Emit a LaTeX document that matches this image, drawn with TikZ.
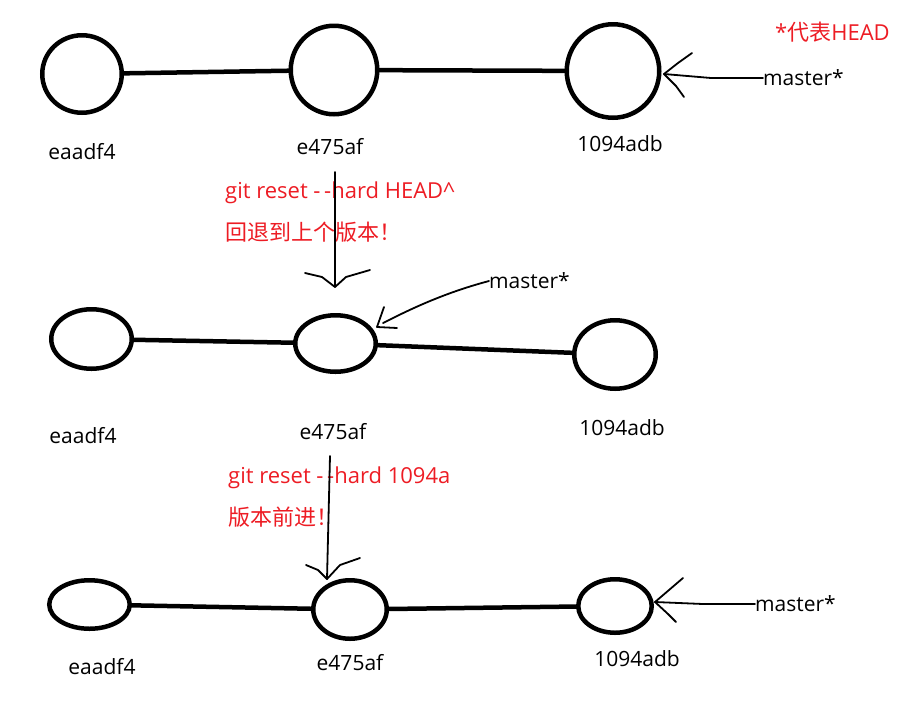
\documentclass[tikz,border=0pt]{standalone}
\usepackage{fontspec}
\setmainfont{Open Sans}
\newfontfamily\cjk{Noto Sans CJK SC}
\usetikzlibrary{shapes.geometric}
\definecolor{paint_red}{RGB}{237,28,36}
\tikzset{commit_node/.style={ellipse, draw=black, line width=4.5pt, inner sep=0pt, outer sep=0pt}}
\tikzset{commit_edge/.style={line width=4.5pt}}
\tikzset{hash_label/.style={font=\fontsize{21}{25}\selectfont, inner sep=0pt}}
\tikzset{branch_label/.style={font=\fontsize{21}{25}\selectfont, inner sep=0pt, anchor=west}}
\tikzset{red_note/.style={font=\fontsize{22}{26}\selectfont, text=paint_red, inner sep=0pt, anchor=west}}
\tikzset{pointer_line/.style={line width=1.8pt, line cap=round, line join=round}}

\begin{document}
\begin{tikzpicture}[x=1pt,y=-1pt]
    \useasboundingbox (0,0) rectangle (923,702);

    % before the reset
    \node[commit_node, minimum width=79.5pt, minimum height=77.5pt] (a1) at (82,74) {};
    \node[commit_node, minimum width=86.5pt, minimum height=88.5pt] (a2) at (334,70) {};
    \node[commit_node, minimum width=92.5pt, minimum height=93.5pt] (a3) at (613,71) {};
    \draw[commit_edge] (a1) -- (a2) -- (a3);
    \node[hash_label] (ha1) at (82,152) {eaadf4};
    \node[hash_label] (ha2) at (330,147) {e475af};
    \node[hash_label] (ha3) at (620,144) {1094adb};
    \node[red_note] (head_note) at (775,32) {*{\cjk 代表}HEAD};
    \node[branch_label] (ma) at (763,78) {master*};
    \coordinate (ta) at (664,74);
    \draw[pointer_line] (ma.west) -- (711,78) -- (ta);
    \draw[pointer_line] (692,53) -- (678,63) -- (ta) -- (676,86) -- (684,97);

    % reset to HEAD^
    \node[red_note] (cmd1) at (225,193) {git reset -\,-hard HEAD\^{}};
    \node[red_note] (txt1) at (225,232) {\cjk 回退到上个版本！};
    \coordinate (r1_top) at (335,172);
    \coordinate (r1_tip) at (335,287);
    \draw[pointer_line] (r1_top) -- (r1_tip);
    \draw[pointer_line] (305,273) -- (322,277) -- (r1_tip) -- (346,277) -- (370,270);

    % after the reset
    \node[commit_node, minimum width=80.5pt, minimum height=59.5pt] (b1) at (91.5,339) {};
    \node[commit_node, minimum width=80.5pt, minimum height=56.5pt] (b2) at (335.5,343.5) {};
    \node[commit_node, minimum width=81.5pt, minimum height=68.5pt] (b3) at (615,354.5) {};
    \draw[commit_edge] (b1) -- (b2) -- (b3);
    \node[hash_label] (hb1) at (83,436) {eaadf4};
    \node[hash_label] (hb2) at (333,432) {e475af};
    \node[hash_label] (hb3) at (622,428) {1094adb};
    \node[branch_label] (mb) at (489,281) {master*};
    \coordinate (tb) at (377,327);
    \draw[pointer_line] (mb.west) .. controls (440,294) and (405,312) .. (383,323);
    \draw[pointer_line] (384,307) -- (tb) -- (397,328);

    % reset to 1094a
    \node[red_note] (cmd2) at (228,478) {git reset -\,-hard 1094a};
    \node[red_note] (txt2) at (228,517) {\cjk 版本前进！};
    \coordinate (r2_top) at (330,456);
    \coordinate (r2_tip) at (327,579);
    \draw[pointer_line] (r2_top) -- (r2_tip);
    \draw[pointer_line] (306,565) -- (318,570) -- (r2_tip) -- (340,565) -- (360,558);

    % back at 1094adb
    \node[commit_node, minimum width=80.5pt, minimum height=48.5pt] (c1) at (89.5,604.5) {};
    \node[commit_node, minimum width=73.5pt, minimum height=58.5pt] (c2) at (350,609.5) {};
    \node[commit_node, minimum width=73.5pt, minimum height=53.5pt] (c3) at (615,606) {};
    \draw[commit_edge] (c1) -- (c2) -- (c3);
    \node[hash_label] (hc1) at (102,667) {eaadf4};
    \node[hash_label] (hc2) at (350,663) {e475af};
    \node[hash_label] (hc3) at (637,659) {1094adb};
    \node[branch_label] (mc) at (755,604) {master*};
    \coordinate (tc) at (655,602);
    \draw[pointer_line] (mc.west) -- (703,604) -- (tc);
    \draw[pointer_line] (683,578) -- (669,590) -- (tc) -- (668,614) -- (676,622);
\end{tikzpicture}
\end{document}
